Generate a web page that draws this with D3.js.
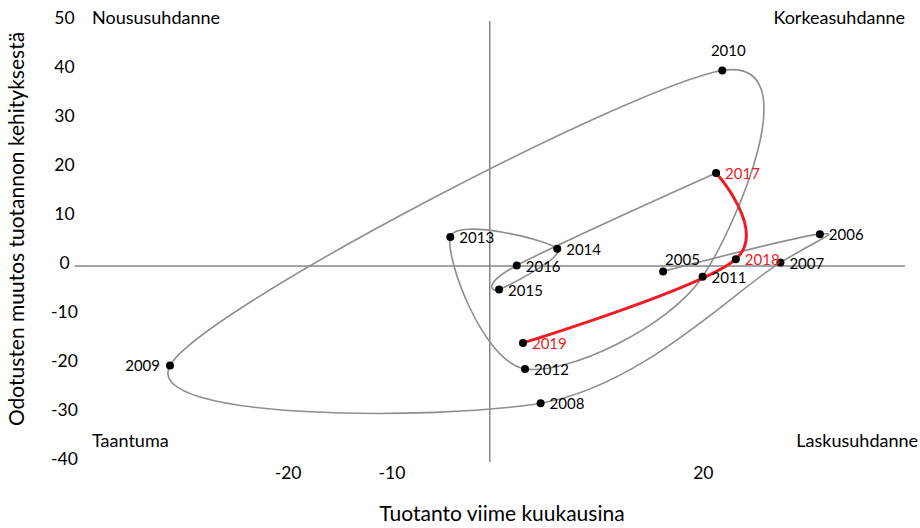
<!DOCTYPE html>
<html>
<head>
<meta charset="utf-8">
<script src="https://cdn.jsdelivr.net/npm/d3@7"></script>
<style>
  body { margin: 0; background: #fff; }
  text { font-family: Lato, "Noto Sans", sans-serif; fill: #000; }
  .yearLabel { font-size: 15px; }
  .tickLabel { font-size: 17.5px; }
  .quadLabel { font-size: 18px; }
  .axisLabel { font-size: 21px; }
</style>
</head>
<body>
<div id="chart"></div>
<script>
// vuodet ja arvot
var years = [2005, 2006, 2007, 2008, 2009, 2010, 2011, 2012, 2013, 2014, 2015, 2016, 2017, 2018, 2019];
var production = [16.7, 31.8, 28.0, 4.9, -30.8, 22.4, 20.5, 3.4, -3.8, 6.5, 0.9, 2.6, 21.8, 23.7, 3.2];
var expectation = [-1.1, 6.5, 0.7, -28.0, -20.3, 39.9, -2.2, -21.0, 5.9, 3.5, -4.8, 0.1, 19.0, 1.4, -15.7];
var highlightYears = [2017, 2018, 2019];

var yTicks = [50, 40, 30, 20, 10, 0, -10, -20, -30, -40];
var xTicks = [-20, -10, 20];

var quadrants = ["Noususuhdanne", "Korkeasuhdanne", "Taantuma", "Laskusuhdanne"];
var xTitle = "Tuotanto viime kuukausina";
var yTitle = "Odotusten muutos tuotannon kehityksestä";

var width = 920, height = 528;
var red = "#ee1c24";

var svg = d3.select("#chart").append("svg")
  .attr("width", width)
  .attr("height", height);

var x = d3.scaleLinear().domain([-40, 40]).range([74.5, 905]);
var y = d3.scaleLinear().domain([-40, 50]).range([462, 21]);

var points = years.map(function (d, i) {
  return { year: d, x: production[i], y: expectation[i] };
});

// akselit nollakohdissa
svg.append("line")
  .attr("x1", x(-40)).attr("x2", x(40))
  .attr("y1", y(0)).attr("y2", y(0))
  .style("stroke", "#868686")
  .style("stroke-width", 1.5);

svg.append("line")
  .attr("x1", x(0)).attr("x2", x(0))
  .attr("y1", y(50)).attr("y2", y(-40))
  .style("stroke", "#868686")
  .style("stroke-width", 1.5);

// tick labels
svg.selectAll(".yTick")
  .data(yTicks)
  .enter().append("text")
  .attr("class", "tickLabel yTick")
  .attr("x", 64.5)
  .attr("y", function (d) { return y(d) - 3; })
  .attr("dy", "0.35em")
  .style("text-anchor", "middle")
  .text(function (d) { return d; });

svg.selectAll(".xTick")
  .data(xTicks)
  .enter().append("text")
  .attr("class", "tickLabel xTick")
  .attr("x", function (d) { return x(d) + 6; })
  .attr("y", 473)
  .attr("dy", "0.35em")
  .style("text-anchor", "middle")
  .text(function (d) { return d; });

// axis titles
svg.append("text")
  .attr("class", "axisLabel")
  .attr("x", 502)
  .attr("y", 514)
  .attr("dy", "0.35em")
  .style("text-anchor", "middle")
  .text(xTitle);

svg.append("text")
  .attr("class", "axisLabel")
  .attr("transform", "translate(17,229) rotate(-90)")
  .attr("dy", "0.35em")
  .style("text-anchor", "middle")
  .text(yTitle);

// quadrant labels
var quadPos = [
  { x: 92, y: 18, anchor: "start" },
  { x: 905, y: 18, anchor: "end" },
  { x: 92, y: 441, anchor: "start" },
  { x: 918, y: 441, anchor: "end" }
];
svg.selectAll(".quadLabel")
  .data(quadrants)
  .enter().append("text")
  .attr("class", "quadLabel")
  .attr("x", function (d, i) { return quadPos[i].x; })
  .attr("y", function (d, i) { return quadPos[i].y; })
  .attr("dy", "0.35em")
  .style("text-anchor", function (d, i) { return quadPos[i].anchor; })
  .text(function (d) { return d; });

// smoothed lines (uniform catmull-rom, close to Excel smoothing)
var line = d3.line()
  .x(function (d) { return x(d.x); })
  .y(function (d) { return y(d.y); })
  .curve(d3.curveCatmullRom.alpha(0));

var greyPts = points.filter(function (d) { return d.year <= 2017; });
var redPts = points.filter(function (d) { return highlightYears.indexOf(d.year) >= 0; });

svg.append("path")
  .datum(greyPts)
  .attr("d", line)
  .style("fill", "none")
  .style("stroke", "#8e8e8e")
  .style("stroke-width", 1.6);

svg.append("path")
  .datum(redPts)
  .attr("d", line)
  .style("fill", "none")
  .style("stroke", red)
  .style("stroke-width", 3);

svg.selectAll(".dot")
  .data(points)
  .enter().append("circle")
  .attr("class", "dot")
  .attr("cx", function (d) { return x(d.x); })
  .attr("cy", function (d) { return y(d.y); })
  .attr("r", 4)
  .style("fill", "#000");

// year labels: most sit to the right of the dot
function labelPlace(year) {
  if (year === 2010) return { dx: 6, dy: -20, anchor: "middle" };
  if (year === 2005) return { dx: 2, dy: -12, anchor: "start" };
  if (year === 2009) return { dx: -10, dy: 0, anchor: "end" };
  return { dx: 9, dy: 1, anchor: "start" };
}

svg.selectAll(".yearLabel")
  .data(points)
  .enter().append("text")
  .attr("class", "yearLabel")
  .attr("x", function (d) { return x(d.x) + labelPlace(d.year).dx; })
  .attr("y", function (d) { return y(d.y) + labelPlace(d.year).dy; })
  .attr("dy", "0.35em")
  .style("text-anchor", function (d) { return labelPlace(d.year).anchor; })
  .style("fill", function (d) { return highlightYears.indexOf(d.year) >= 0 ? red : "#000"; })
  .text(function (d) { return d.year; });
</script>
</body>
</html>
